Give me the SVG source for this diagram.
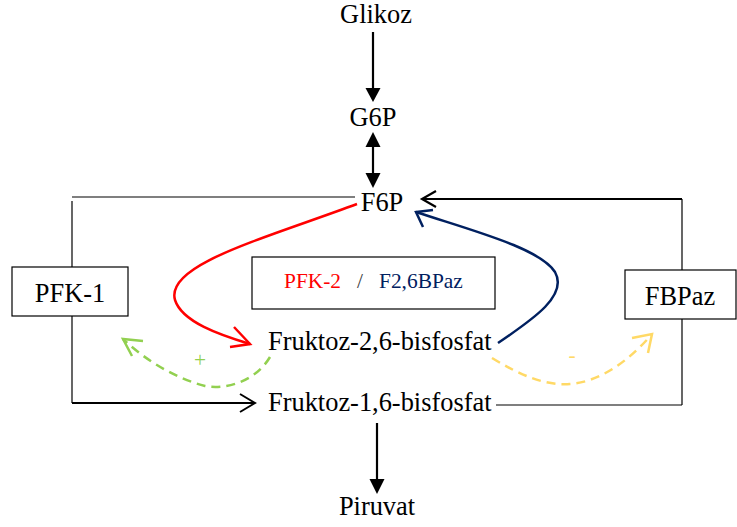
<svg xmlns="http://www.w3.org/2000/svg" width="737" height="527" viewBox="0 0 737 527">
<style>
.t{font-family:'Liberation Serif','Times New Roman',serif;font-size:26.4px;fill:#000}
.s{font-size:21.4px}
.box{fill:#fff;stroke:#000;stroke-width:1.2}
.ln{fill:none;stroke:#000;stroke-width:1.2}
.ah{fill:#000;stroke:none}
</style>
<g id="connectors">
<line x1="373" y1="32" x2="373" y2="90" stroke="#000" stroke-width="2.2"/>
<polygon class="ah" points="365.5,88 380.5,88 373,102"/>
<line x1="373" y1="145" x2="373" y2="175" stroke="#000" stroke-width="2.2"/>
<polygon class="ah" points="365.5,147 380.5,147 373,132"/>
<polygon class="ah" points="365.5,173 380.5,173 373,188"/>
<line x1="377" y1="423" x2="377" y2="482" stroke="#000" stroke-width="2.2"/>
<polygon class="ah" points="369.5,479 384.5,479 377,494"/>
<polyline class="ln" points="355,197 72,197"/>
<line class="ln" x1="72" y1="201" x2="72" y2="403"/>
<line x1="72" y1="403" x2="255" y2="403" stroke="#000" stroke-width="2"/>
<polyline points="240,394 255,403 240,412" fill="none" stroke="#000" stroke-width="2"/>
<line x1="422" y1="199" x2="682" y2="199" stroke="#000" stroke-width="2"/>
<polyline points="436,191 422,199 436,207" fill="none" stroke="#000" stroke-width="2.2"/>
<line class="ln" x1="682" y1="199" x2="682" y2="405"/>
<line class="ln" x1="496" y1="405" x2="682" y2="405"/>
<path d="M357,204 C260,240 165,265 175,300 C182,322 220,335 250,344" fill="none" stroke="#ff0000" stroke-width="2.5"/>
<polyline points="234,327 250,344 230,347" fill="none" stroke="#ff0000" stroke-width="2.5"/>
<path d="M498,343 C535,318 568,295 555,272 C540,248 470,230 416,212" fill="none" stroke="#002060" stroke-width="2.5"/>
<polyline points="423,227 416,212 433,210" fill="none" stroke="#002060" stroke-width="2.5"/>
<path d="M270,357 C255,382 225,390 205,386 C175,378 145,360 123,339" fill="none" stroke="#92d050" stroke-width="2.5" stroke-dasharray="9,6"/>
<polyline points="143,341 123,339 132,356" fill="none" stroke="#92d050" stroke-width="2.5"/>
<path d="M492,358 C520,375 545,386 570,384 C600,382 630,360 652,334" fill="none" stroke="#ffd966" stroke-width="2.5" stroke-dasharray="9,6"/>
<polyline points="632,338 652,334 648,353" fill="none" stroke="#ffd966" stroke-width="2.5"/>
</g>
<g id="glikoz"><text class="t" x="376" y="23" text-anchor="middle">Glikoz</text></g>
<g id="g6p"><text class="t" x="373" y="126" text-anchor="middle">G6P</text></g>
<g id="f6p"><text class="t" x="382" y="211" text-anchor="middle">F6P</text></g>
<g id="pfk1"><rect class="box" x="12" y="267" width="116" height="49"/><text class="t" x="70" y="302" text-anchor="middle">PFK-1</text></g>
<g id="fbpaz"><rect class="box" x="625" y="270" width="111" height="49"/><text class="t" x="680" y="305" text-anchor="middle">FBPaz</text></g>
<g id="pfk2"><rect class="box" x="252" y="257" width="243" height="52"/><text class="t s" x="284" y="288" style="fill:#ff0000">PFK-2</text><text class="t s" x="360" y="288" text-anchor="middle" style="fill:#404040">/</text><text class="t s" x="379" y="288" style="fill:#002060">F2,6BPaz</text></g>
<g id="f26bp"><text class="t" x="268" y="350">Fruktoz-2,6-bisfosfat</text></g>
<g id="f16bp"><text class="t" x="268" y="411">Fruktoz-1,6-bisfosfat</text></g>
<g id="piruvat"><text class="t" x="377" y="515" text-anchor="middle">Piruvat</text></g>
<text class="t s" x="200" y="367" text-anchor="middle" style="fill:#92d050">+</text>
<text class="t s" x="572" y="362" text-anchor="middle" style="fill:#ffd966">-</text>
</svg>
